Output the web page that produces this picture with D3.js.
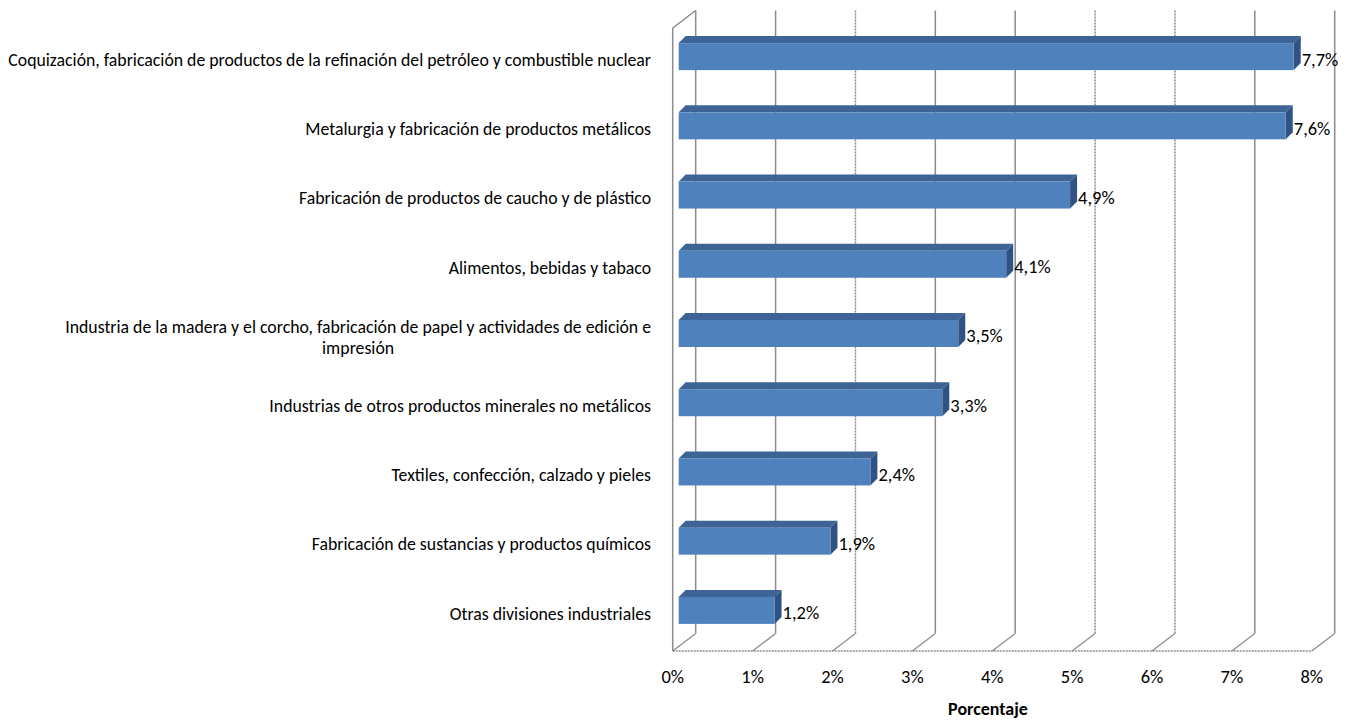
<!DOCTYPE html>
<html><head><meta charset="utf-8">
<script src="https://cdn.jsdelivr.net/npm/d3@7"></script>
<style>
html,body{margin:0;padding:0;background:#fff;}
svg{display:block;}
text{font-family:Carlito, Calibri, "Liberation Sans", Arial, sans-serif;fill:#000;}
</style></head>
<body>
<svg id="chart" width="1349" height="722"></svg>
<script>
const categories = [
  ["Coquización, fabricación de productos  de la refinación del petróleo  y combustible nuclear"],
  ["Metalurgia y fabricación de productos  metálicos"],
  ["Fabricación de productos  de caucho y de plástico"],
  ["Alimentos, bebidas y tabaco "],
  ["Industria de la madera y el corcho,  fabricación de papel y actividades de edición e", "impresión"],
  ["Industrias de otros productos  minerales no metálicos"],
  ["Textiles, confección, calzado y pieles"],
  ["Fabricación de sustancias y productos  químicos"],
  ["Otras divisiones industriales"]
];
const values = [7.7, 7.6, 4.9, 4.1, 3.5, 3.3, 2.4, 1.9, 1.2];
const valueLabels = ["7,7%", "7,6%", "4,9%", "4,1%", "3,5%", "3,3%", "2,4%", "1,9%", "1,2%"];
const ticks = [0, 1, 2, 3, 4, 5, 6, 7, 8];
const tickLabels = ["0%", "1%", "2%", "3%", "4%", "5%", "6%", "7%", "8%"];
const axisTitle = "Porcentaje";
const dottedTicks = [2, 5, 6];

const svg = d3.select("#chart");
const DX = 23, DY = -17.5;        // depth of the 3D box
const OX = 6, OY = -6;            // bar front face offset within depth
const BDX = 7, BDY = -7;          // bar depth
const BAR_H = 27;

const x = d3.scaleLinear().domain([0, 8]).range([672.7, 1311.7]);
const y = d3.scaleBand().domain(d3.range(categories.length)).range([28, 651]).padding(0);

const grid = svg.append("g");
const gridColor = "#8c8c8c";
ticks.forEach(t => {
  const dash = dottedTicks.includes(t) ? "2,1" : null;
  grid.append("line").attr("x1", x(t) + DX).attr("x2", x(t) + DX)
    .attr("y1", 28 + DY).attr("y2", 651 + DY)
    .attr("stroke", gridColor).attr("stroke-width", 1.5).attr("stroke-dasharray", dash);
  grid.append("line").attr("x1", x(t)).attr("y1", 651)
    .attr("x2", x(t) + DX).attr("y2", 651 + DY)
    .attr("stroke", gridColor).attr("stroke-width", 1.3);
});
grid.append("line").attr("x1", x(0)).attr("x2", x(8)).attr("y1", 651).attr("y2", 651)
  .attr("stroke", gridColor).attr("stroke-width", 1.5).attr("stroke-dasharray", "2,1");
grid.append("line").attr("x1", x(0)).attr("x2", x(0)).attr("y1", 28).attr("y2", 651)
  .attr("stroke", gridColor).attr("stroke-width", 1.5);
grid.append("line").attr("x1", x(0)).attr("y1", 28).attr("x2", x(0) + DX).attr("y2", 28 + DY)
  .attr("stroke", gridColor).attr("stroke-width", 1.5);

const bars = svg.append("g");
values.forEach((v, i) => {
  const cy = y(i) + y.bandwidth() / 2 + OY;
  const x0 = x(0) + OX, x1 = x(v) + OX;
  const t = cy - BAR_H / 2, b = cy + BAR_H / 2;
  bars.append("path")
    .attr("d", `M${x0},${t}L${x0 + BDX},${t + BDY}L${x1 + BDX},${t + BDY}L${x1},${t}Z`)
    .attr("fill", "#3d6495");
  bars.append("path")
    .attr("d", `M${x1},${t}L${x1 + BDX},${t + BDY}L${x1 + BDX},${b + BDY}L${x1},${b}Z`)
    .attr("fill", "#2f5384");
  bars.append("rect").attr("x", x0).attr("y", t).attr("width", x1 - x0).attr("height", BAR_H)
    .attr("fill", "#4f81bd");
  svg.append("text").attr("x", x1 + BDX + 1).attr("y", cy + 4.5)
    .attr("dominant-baseline", "middle").attr("font-size", 18.5).text(valueLabels[i]);
});

const labelG = svg.append("g");
let fs = 14;
const probe = labelG.append("text").attr("font-size", fs).text(categories[0][0]);
const w = probe.node().getComputedTextLength();
probe.remove();
fs = fs * 643 / w;
categories.forEach((lines, i) => {
  const cy = y(i) + y.bandwidth() / 2 + OY + 5;
  if (lines.length === 1) {
    labelG.append("text").attr("x", 651).attr("y", cy).attr("text-anchor", "end")
      .attr("dominant-baseline", "middle").attr("font-size", fs).text(lines[0]);
  } else {
    const first = labelG.append("text").attr("x", 651).attr("y", cy - 10).attr("text-anchor", "end")
      .attr("dominant-baseline", "middle").attr("font-size", fs).text(lines[0]);
    const lw = first.node().getComputedTextLength();
    const center = 651 - lw / 2;
    lines.slice(1).forEach((ln, k) => {
      labelG.append("text").attr("x", center).attr("y", cy + 11 + 21 * k).attr("text-anchor", "middle")
        .attr("dominant-baseline", "middle").attr("font-size", fs).text(ln);
    });
  }
});

ticks.forEach((t, i) => {
  svg.append("text").attr("x", x(t)).attr("y", 679).attr("text-anchor", "middle")
    .attr("dominant-baseline", "middle").attr("font-size", 18.5).text(tickLabels[i]);
});
svg.append("text").attr("x", 988).attr("y", 711).attr("text-anchor", "middle")
  .attr("dominant-baseline", "middle").attr("font-size", 18).attr("font-weight", "bold").text(axisTitle);
</script>
</body></html>
